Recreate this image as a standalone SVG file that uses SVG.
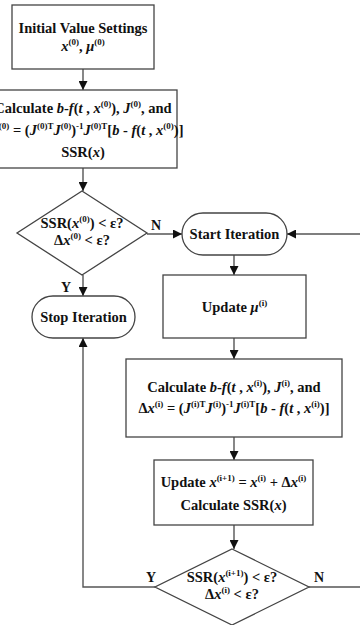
<svg xmlns="http://www.w3.org/2000/svg" width="360" height="625" viewBox="0 0 360 625">
  <style>
    .box { fill: #ffffff; stroke: #444444; stroke-width: 1.3; }
    .ln { fill: none; stroke: #555555; stroke-width: 1.4; }
    .t { font-family: "Liberation Serif", "Times New Roman", serif; font-weight: bold; font-size: 14.5px; fill: #111111; text-anchor: middle; }
    .i { font-style: italic; }
    .s { font-size: 9px; }
    .lbl { font-family: "Liberation Serif", "Times New Roman", serif; font-weight: bold; font-size: 14px; fill: #111111; }
  </style>
  <defs>
    <marker id="arrow" viewBox="0 0 10 10" refX="10" refY="5" markerWidth="9" markerHeight="9" markerUnits="userSpaceOnUse" orient="auto">
      <path d="M0,0 L10,5 L0,10 z" fill="#111111"/>
    </marker>
  </defs>

  <g id="connectors">
    <line class="ln" x1="83" y1="69" x2="83" y2="90" marker-end="url(#arrow)"/>
    <line class="ln" x1="83" y1="168" x2="83" y2="191" marker-end="url(#arrow)"/>
    <line class="ln" x1="147" y1="234" x2="182" y2="234" marker-end="url(#arrow)"/>
    <line class="ln" x1="83" y1="275" x2="83" y2="296" marker-end="url(#arrow)"/>
    <line class="ln" x1="234" y1="255" x2="234" y2="275" marker-end="url(#arrow)"/>
    <line class="ln" x1="234" y1="338" x2="234" y2="359" marker-end="url(#arrow)"/>
    <line class="ln" x1="234" y1="437" x2="234" y2="460" marker-end="url(#arrow)"/>
    <line class="ln" x1="234" y1="525" x2="234" y2="549" marker-end="url(#arrow)"/>
    <polyline class="ln" points="155,587 83,587 83,338" marker-end="url(#arrow)"/>
    <polyline class="ln" points="309,587 366,587 366,234 287,234" marker-end="url(#arrow)"/>
    <text class="lbl" x="151" y="230">N</text>
    <text class="lbl" x="61" y="292">Y</text>
    <text class="lbl" x="146" y="582">Y</text>
    <text class="lbl" x="314" y="582">N</text>
  </g>

  <g id="init">
    <rect class="box" x="12" y="5" width="142" height="64"/>
    <text class="t" x="83" y="33">Initial Value Settings</text>
    <text class="t" x="83" y="51"><tspan class="i">x</tspan><tspan class="s" dy="-6">(0)</tspan><tspan dy="6">, </tspan><tspan class="i">μ</tspan><tspan class="s" dy="-6">(0)</tspan></text>
  </g>

  <g id="calc0">
    <rect class="box" x="-11" y="90" width="188" height="78"/>
    <text class="t" x="83" y="113">Calculate <tspan class="i">b</tspan>-<tspan class="i">f</tspan>(<tspan class="i">t</tspan> , <tspan class="i">x</tspan><tspan class="s" dy="-6">(0)</tspan><tspan dy="6">), </tspan><tspan class="i">J</tspan><tspan class="s" dy="-6">(0)</tspan><tspan dy="6">, and</tspan></text>
    <text class="t" x="83" y="135">Δ<tspan class="i">x</tspan><tspan class="s" dy="-6">(0)</tspan><tspan dy="6"> = (</tspan><tspan class="i">J</tspan><tspan class="s" dy="-6">(0)T</tspan><tspan class="i" dy="6">J</tspan><tspan class="s" dy="-6">(0)</tspan><tspan dy="6">)</tspan><tspan class="s" dy="-6">-1</tspan><tspan class="i" dy="6">J</tspan><tspan class="s" dy="-6">(0)T</tspan><tspan dy="6">[</tspan><tspan class="i">b</tspan> - <tspan class="i">f</tspan>(<tspan class="i">t</tspan> , <tspan class="i">x</tspan><tspan class="s" dy="-6">(0)</tspan><tspan dy="6">)]</tspan></text>
    <text class="t" x="83" y="157">SSR(<tspan class="i">x</tspan>)</text>
  </g>

  <g id="check0">
    <polygon class="box" points="82,191 147,233 82,275 17,233"/>
    <text class="t" x="82" y="228">SSR(<tspan class="i">x</tspan><tspan class="s" dy="-6">(0)</tspan><tspan dy="6">) &lt; ε?</tspan></text>
    <text class="t" x="82" y="245">Δ<tspan class="i">x</tspan><tspan class="s" dy="-6">(0)</tspan><tspan dy="6"> &lt; ε?</tspan></text>
  </g>

  <g id="stop">
    <rect class="box" x="32" y="296" width="103" height="42" rx="21" ry="21"/>
    <text class="t" x="83.5" y="322">Stop Iteration</text>
  </g>

  <g id="start">
    <rect class="box" x="182" y="213" width="105" height="42" rx="21" ry="21"/>
    <text class="t" x="234.5" y="239">Start Iteration</text>
  </g>

  <g id="update-mu">
    <rect class="box" x="163" y="275" width="143" height="63"/>
    <text class="t" x="234.5" y="312">Update <tspan class="i">μ</tspan><tspan class="s" dy="-6">(i)</tspan></text>
  </g>

  <g id="calc-i">
    <rect class="box" x="126" y="359" width="216" height="78"/>
    <text class="t" x="234" y="392">Calculate <tspan class="i">b</tspan>-<tspan class="i">f</tspan>(<tspan class="i">t</tspan> , <tspan class="i">x</tspan><tspan class="s" dy="-6">(i)</tspan><tspan dy="6">), </tspan><tspan class="i">J</tspan><tspan class="s" dy="-6">(i)</tspan><tspan dy="6">, and</tspan></text>
    <text class="t" x="234" y="413">Δ<tspan class="i">x</tspan><tspan class="s" dy="-6">(i)</tspan><tspan dy="6"> = (</tspan><tspan class="i">J</tspan><tspan class="s" dy="-6">(i)T</tspan><tspan class="i" dy="6">J</tspan><tspan class="s" dy="-6">(i)</tspan><tspan dy="6">)</tspan><tspan class="s" dy="-6">-1</tspan><tspan class="i" dy="6">J</tspan><tspan class="s" dy="-6">(i)T</tspan><tspan dy="6">[</tspan><tspan class="i">b</tspan> - <tspan class="i">f</tspan>(<tspan class="i">t</tspan> , <tspan class="i">x</tspan><tspan class="s" dy="-6">(i)</tspan><tspan dy="6">)]</tspan></text>
  </g>

  <g id="update-x">
    <rect class="box" x="154" y="460" width="159" height="65"/>
    <text class="t" x="233.5" y="487">Update <tspan class="i">x</tspan><tspan class="s" dy="-6">(i+1)</tspan><tspan dy="6"> = </tspan><tspan class="i">x</tspan><tspan class="s" dy="-6">(i)</tspan><tspan dy="6"> + Δ</tspan><tspan class="i">x</tspan><tspan class="s" dy="-6">(i)</tspan></text>
    <text class="t" x="233.5" y="510">Calculate SSR(<tspan class="i">x</tspan>)</text>
  </g>

  <g id="check-i">
    <polygon class="box" points="232,549 309,587 232,625 155,587"/>
    <text class="t" x="232" y="582">SSR(<tspan class="i">x</tspan><tspan class="s" dy="-6">(i+1)</tspan><tspan dy="6">) &lt; ε?</tspan></text>
    <text class="t" x="232" y="599">Δ<tspan class="i">x</tspan><tspan class="s" dy="-6">(i)</tspan><tspan dy="6"> &lt; ε?</tspan></text>
  </g>
</svg>
